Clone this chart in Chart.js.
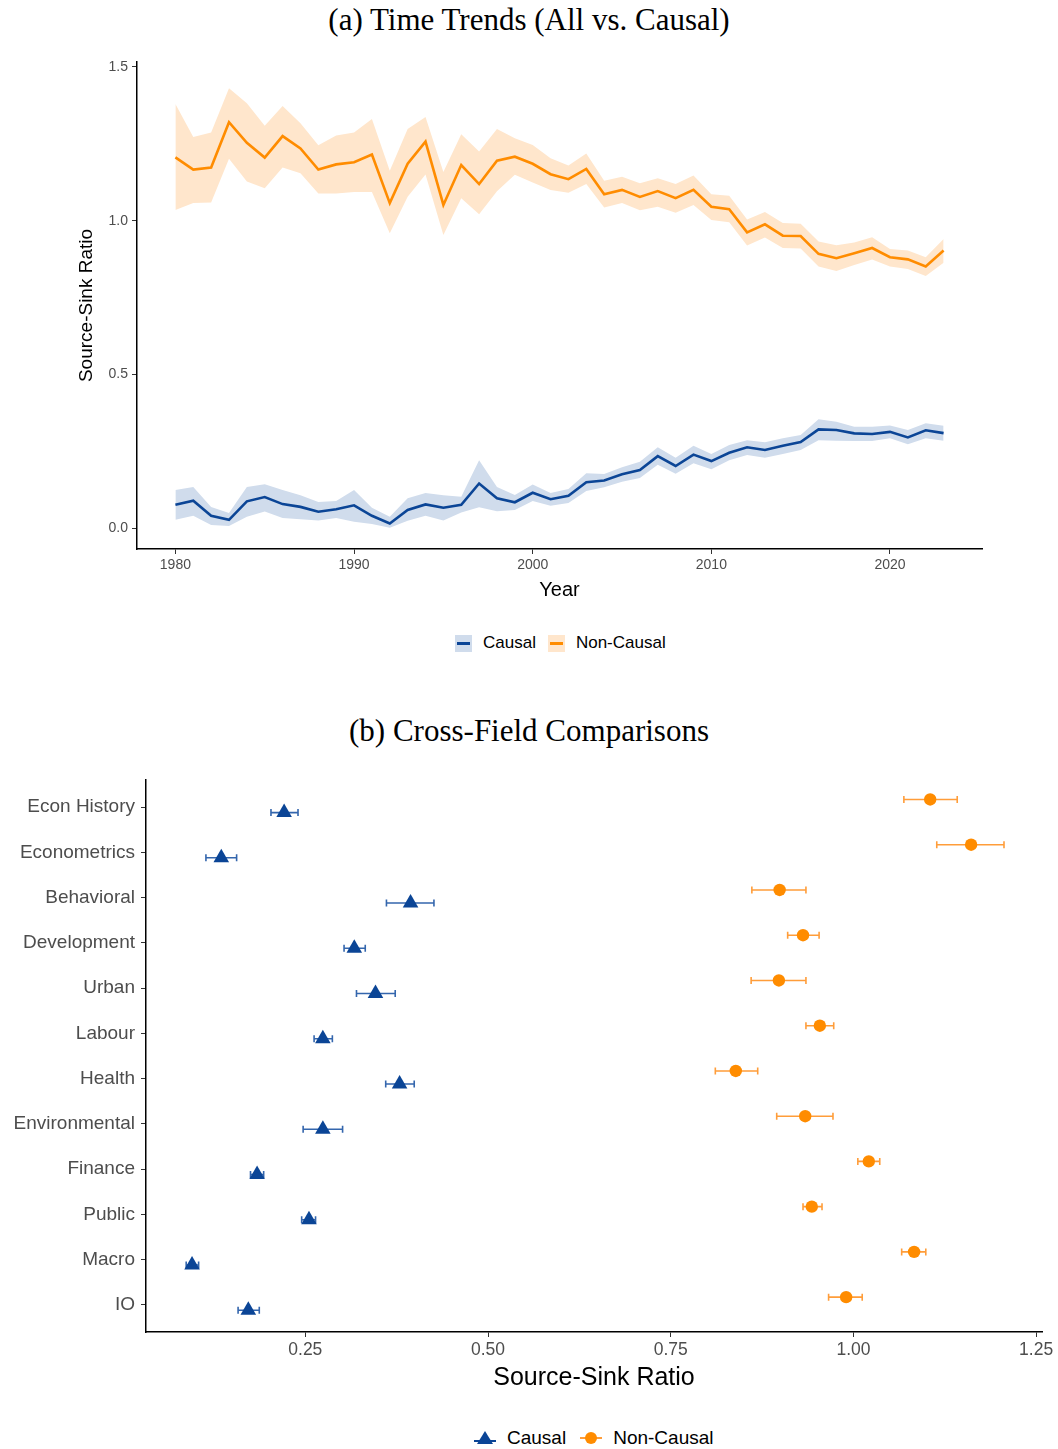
<!DOCTYPE html>
<html>
<head>
<meta charset="utf-8">
<script src="https://cdn.jsdelivr.net/npm/chart.js@4.4.0/dist/chart.umd.min.js"></script>
<style>
  body { margin: 0; background: #fff; }
  #page { position: relative; width: 1058px; height: 1449px; overflow: hidden; }
  .title { position: absolute; left: 0; width: 1058px; text-align: center;
           font-family: "Liberation Serif", serif; font-size: 31px; color: #000; }
  canvas { position: absolute; left: 0; }
  .legend { position: absolute; display: flex; align-items: center;
            font-family: "Liberation Sans", sans-serif; color: #000; white-space: nowrap; }
  .legend .item { display: flex; align-items: center; }
  .legend .key { width: 17px; height: 17px; position: relative; margin-right: 11px; }
  .legend .key i { position: absolute; left: 2px; right: 2px; top: 7px; height: 3px; }
</style>
</head>
<body>
<div id="page">
  <div class="title" style="top:2px">(a) Time Trends (All vs. Causal)</div>
  <canvas id="trend" width="1058" height="580" style="top:40px"></canvas>
  <div class="legend" style="top:633px;left:455px;font-size:17px">
    <div class="item"><span class="key" style="background:#d0dcec"><i style="background:#0b4596"></i></span>Causal</div>
    <div class="item" style="margin-left:12px"><span class="key" style="background:#ffe6cc"><i style="background:#ff8c00"></i></span>Non-Causal</div>
  </div>

  <div class="title" style="top:713px">(b) Cross-Field Comparisons</div>
  <canvas id="fields" width="1058" height="650" style="top:760px"></canvas>
  <div class="legend" style="top:1427px;left:472px;font-size:19px">
    <div class="item"><svg width="26" height="20" style="margin-right:9px"><line x1="2" y1="13" x2="24" y2="13" stroke="#0b4596" stroke-width="2"/><polygon points="13,3 21,16 5,16" fill="#0b4596"/></svg>Causal</div>
    <div class="item" style="margin-left:12px"><svg width="26" height="20" style="margin-right:9px"><line x1="2" y1="10" x2="24" y2="10" stroke="#ff9d3a" stroke-width="2"/><circle cx="13" cy="10" r="6" fill="#ff8c00"/></svg>Non-Causal</div>
  </div>
</div>

<script>
// ---- panel (a): yearly source-sink ratio ----
const years = [1980, 1981, 1982, 1983, 1984, 1985, 1986, 1987, 1988, 1989,
  1990, 1991, 1992, 1993, 1994, 1995, 1996, 1997, 1998, 1999,
  2000, 2001, 2002, 2003, 2004, 2005, 2006, 2007, 2008, 2009,
  2010, 2011, 2012, 2013, 2014, 2015, 2016, 2017, 2018, 2019,
  2020, 2021, 2022, 2023];

const causalMean = [0.076, 0.089, 0.040, 0.027, 0.087, 0.101, 0.078, 0.069, 0.053, 0.061,
  0.074, 0.040, 0.015, 0.059, 0.077, 0.066, 0.076, 0.145, 0.097, 0.084,
  0.115, 0.094, 0.105, 0.149, 0.155, 0.175, 0.189, 0.234, 0.202, 0.239,
  0.218, 0.245, 0.263, 0.254, 0.268, 0.280, 0.321, 0.319, 0.308, 0.306,
  0.313, 0.295, 0.318, 0.309];
const causalHi = [0.124, 0.134, 0.069, 0.049, 0.134, 0.143, 0.124, 0.107, 0.085, 0.088,
  0.124, 0.066, 0.037, 0.097, 0.114, 0.107, 0.102, 0.221, 0.134, 0.108,
  0.142, 0.114, 0.127, 0.178, 0.176, 0.198, 0.216, 0.263, 0.229, 0.268,
  0.241, 0.270, 0.286, 0.279, 0.292, 0.303, 0.354, 0.346, 0.330, 0.330,
  0.334, 0.319, 0.341, 0.333];
const causalLo = [0.027, 0.040, 0.010, 0.007, 0.037, 0.054, 0.033, 0.029, 0.025, 0.033,
  0.021, 0.013, 0.001, 0.024, 0.040, 0.025, 0.051, 0.068, 0.055, 0.059,
  0.088, 0.073, 0.082, 0.121, 0.133, 0.151, 0.163, 0.206, 0.177, 0.211,
  0.191, 0.221, 0.238, 0.229, 0.241, 0.254, 0.286, 0.284, 0.283, 0.283,
  0.292, 0.273, 0.292, 0.284];

const nonCausalMean = [1.206, 1.166, 1.173, 1.320, 1.253, 1.205, 1.275, 1.235, 1.166, 1.183,
  1.190, 1.215, 1.057, 1.185, 1.257, 1.051, 1.181, 1.119, 1.195, 1.208,
  1.185, 1.151, 1.135, 1.168, 1.086, 1.100, 1.077, 1.096, 1.073, 1.100,
  1.045, 1.037, 0.962, 0.988, 0.951, 0.950, 0.892, 0.878, 0.894, 0.911,
  0.881, 0.874, 0.851, 0.903];
const nonCausalHi = [1.379, 1.272, 1.287, 1.431, 1.382, 1.309, 1.373, 1.317, 1.245, 1.277,
  1.287, 1.331, 1.162, 1.298, 1.337, 1.158, 1.281, 1.225, 1.298, 1.268,
  1.246, 1.203, 1.179, 1.218, 1.130, 1.143, 1.122, 1.138, 1.119, 1.147,
  1.086, 1.081, 1.004, 1.028, 0.992, 0.990, 0.932, 0.920, 0.929, 0.946,
  0.908, 0.903, 0.881, 0.940];
const nonCausalLo = [1.035, 1.057, 1.059, 1.201, 1.127, 1.105, 1.173, 1.154, 1.088, 1.088,
  1.093, 1.093, 0.959, 1.078, 1.150, 0.953, 1.073, 1.021, 1.096, 1.149,
  1.124, 1.100, 1.091, 1.119, 1.043, 1.057, 1.034, 1.045, 1.026, 1.051,
  1.002, 0.995, 0.919, 0.945, 0.911, 0.909, 0.851, 0.836, 0.856, 0.874,
  0.851, 0.843, 0.820, 0.863];

const yearTicks = [1980, 1990, 2000, 2010, 2020];
const ratioTicks = [0, 0.5, 1.0, 1.5];

// ---- panel (b): by field ----
const fields = ['Econ History', 'Econometrics', 'Behavioral', 'Development', 'Urban', 'Labour',
  'Health', 'Environmental', 'Finance', 'Public', 'Macro', 'IO'];
const causalField = [0.221, 0.135, 0.394, 0.317, 0.346, 0.274, 0.379, 0.274, 0.184, 0.255, 0.095, 0.172];
const causalFieldLo = [0.203, 0.114, 0.361, 0.303, 0.320, 0.262, 0.360, 0.247, 0.175, 0.245, 0.087, 0.158];
const causalFieldHi = [0.240, 0.156, 0.426, 0.332, 0.373, 0.287, 0.399, 0.301, 0.193, 0.264, 0.104, 0.187];
const nonCausalField = [1.105, 1.161, 0.899, 0.931, 0.898, 0.954, 0.839, 0.934, 1.021, 0.943, 1.083, 0.990];
const nonCausalFieldLo = [1.069, 1.114, 0.861, 0.910, 0.860, 0.935, 0.811, 0.895, 1.006, 0.931, 1.066, 0.966];
const nonCausalFieldHi = [1.142, 1.206, 0.935, 0.953, 0.935, 0.973, 0.869, 0.972, 1.036, 0.957, 1.099, 1.012];
const fieldTicks = [0.25, 0.50, 0.75, 1.00, 1.25];

const blue = '#0b4596', orange = '#ff8c00';
const sans = 'Liberation Sans';
const tickGray = '#4d4d4d';

const pts = arr => arr.map((v, i) => ({ x: years[i], y: v }));

const axisGrid = { drawOnChartArea: false, drawTicks: true, tickLength: 5, color: '#333', lineWidth: 1 };
const axisBorder = { display: true, color: '#000', width: 1.5 };

new Chart(document.getElementById('trend'), {
  type: 'line',
  data: {
    datasets: [
      { data: pts(causalLo), borderColor: 'transparent', pointRadius: 0, fill: false, order: 1 },
      { data: pts(causalHi), borderColor: 'transparent', pointRadius: 0, fill: '-1', backgroundColor: '#d0dcec', order: 1 },
      { data: pts(nonCausalLo), borderColor: 'transparent', pointRadius: 0, fill: false, order: 1 },
      { data: pts(nonCausalHi), borderColor: 'transparent', pointRadius: 0, fill: '-1', backgroundColor: '#ffe6cc', order: 1 },
      { label: 'Causal', data: pts(causalMean), borderColor: blue, borderWidth: 2.6, pointRadius: 0, fill: false, order: 0 },
      { label: 'Non-Causal', data: pts(nonCausalMean), borderColor: orange, borderWidth: 2.6, pointRadius: 0, fill: false, order: 0 }
    ]
  },
  options: {
    responsive: false,
    animation: false,
    layout: { padding: { left: 71, right: 76, top: 22, bottom: 14 } },
    plugins: { legend: { display: false }, tooltip: { enabled: false } },
    scales: {
      x: {
        type: 'linear', min: 1977.85, max: 2025.15,
        afterBuildTicks: s => { s.ticks = yearTicks.map(v => ({ value: v })); },
        afterFit: s => { s.height = 57; },
        grid: axisGrid, border: axisBorder,
        ticks: { color: tickGray, font: { family: sans, size: 14 }, padding: 3, callback: v => String(v) },
        title: { display: true, text: 'Year', color: '#000', font: { family: sans, size: 20 } }
      },
      y: {
        type: 'linear', min: -0.068, max: 1.516,
        afterBuildTicks: s => { s.ticks = ratioTicks.map(v => ({ value: v })); },
        afterFit: s => { s.width = 66; },
        grid: axisGrid, border: axisBorder,
        ticks: { color: tickGray, font: { family: sans, size: 14 }, padding: 4, callback: v => v.toFixed(1) },
        title: { display: true, text: 'Source-Sink Ratio', color: '#000', font: { family: sans, size: 19 } }
      }
    }
  }
});

// horizontal error bars for panel (b)
const errorBars = {
  id: 'errorBars',
  beforeDatasetsDraw(chart) {
    const { ctx, scales: { x, y } } = chart;
    chart.data.datasets.forEach(ds => {
      ctx.save();
      ctx.strokeStyle = ds.barColor;
      ctx.lineWidth = 1.6;
      ds.data.forEach((p, i) => {
        const py = y.getPixelForValue(p.y);
        const x0 = x.getPixelForValue(ds.lo[i]);
        const x1 = x.getPixelForValue(ds.hi[i]);
        ctx.beginPath();
        ctx.moveTo(x0, py); ctx.lineTo(x1, py);
        ctx.moveTo(x0, py - 3.5); ctx.lineTo(x0, py + 3.5);
        ctx.moveTo(x1, py - 3.5); ctx.lineTo(x1, py + 3.5);
        ctx.stroke();
      });
      ctx.restore();
    });
  }
};

new Chart(document.getElementById('fields'), {
  type: 'scatter',
  data: {
    datasets: [
      {
        label: 'Non-Causal',
        data: fields.map((f, i) => ({ x: nonCausalField[i], y: i - 0.17 })),
        lo: nonCausalFieldLo, hi: nonCausalFieldHi, barColor: '#ff9d3a',
        pointStyle: 'circle', pointRadius: 6.2, backgroundColor: orange, borderWidth: 0
      },
      {
        label: 'Causal',
        data: fields.map((f, i) => ({ x: causalField[i], y: i + 0.12 })),
        lo: causalFieldLo, hi: causalFieldHi, barColor: '#3466ad',
        pointStyle: 'triangle', pointRadius: 9, backgroundColor: blue, borderWidth: 0
      }
    ]
  },
  options: {
    responsive: false,
    animation: false,
    layout: { padding: { left: 0, right: 16, top: 20, bottom: 13 } },
    plugins: { legend: { display: false }, tooltip: { enabled: false } },
    scales: {
      x: {
        type: 'linear', min: 0.032, max: 1.258,
        afterBuildTicks: s => { s.ticks = fieldTicks.map(v => ({ value: v })); },
        afterFit: s => { s.height = 65; },
        grid: axisGrid, border: axisBorder,
        ticks: { color: tickGray, font: { family: sans, size: 17.5 }, padding: 3, callback: v => v.toFixed(2) },
        title: { display: true, text: 'Source-Sink Ratio', color: '#000', font: { family: sans, size: 25 } }
      },
      y: {
        type: 'linear', min: -0.6, max: 11.6, reverse: true,
        afterBuildTicks: s => { s.ticks = fields.map((f, i) => ({ value: i })); },
        afterFit: s => { s.width = 146; },
        grid: axisGrid, border: axisBorder,
        ticks: { color: tickGray, font: { family: sans, size: 19 }, padding: 6, callback: v => fields[v] }
      }
    }
  },
  plugins: [errorBars]
});
</script>
</body>
</html>
